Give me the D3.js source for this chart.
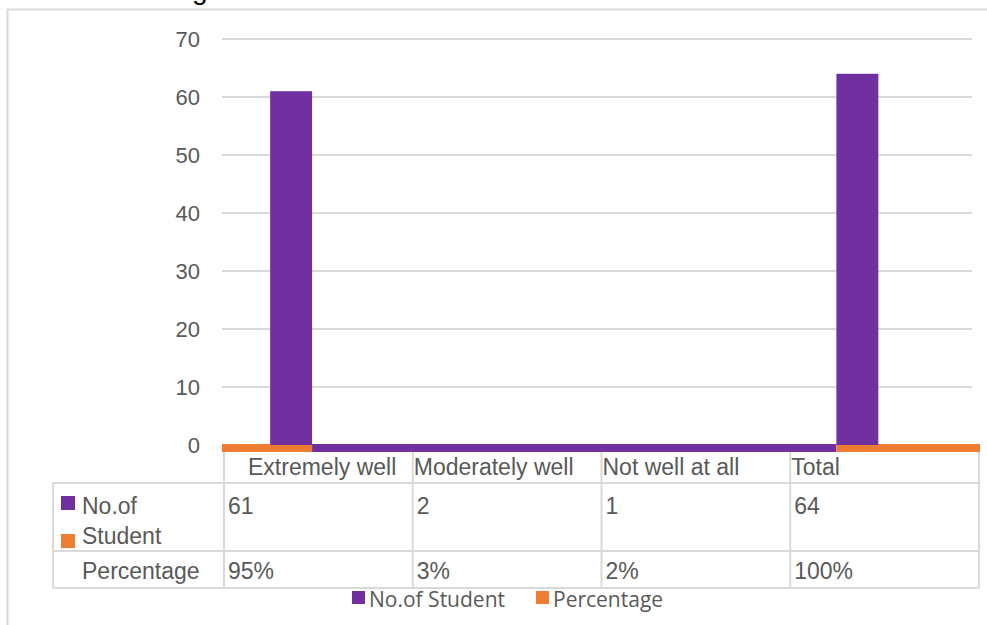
<!DOCTYPE html>
<html>
<head>
<meta charset="utf-8">
<script src="https://cdn.jsdelivr.net/npm/d3@7"></script>
<style>
  body { margin: 0; background: #fff; }
  text { font-family: "Liberation Sans", Arial, sans-serif; fill: #595959; }
  .legend text { font-family: "Open Sans", "Noto Sans", sans-serif; }
</style>
</head>
<body>
<svg id="chart" width="987" height="625"></svg>
<script>
// data
var categories = ["Extremely well", "Moderately well", "Not well at all", "Total"];
var students = [61, 2, 1, 64];
var percentLabels = ["95%", "3%", "2%", "100%"];
var percentages = [0.95, 0.03, 0.02, 1.00];
var series = ["No.of Student", "Percentage"];
var colours = ["#7030a0", "#ed7d31"];
var yTicks = [0, 10, 20, 30, 40, 50, 60, 70];

var svg = d3.select("#chart");
var grid = "#d9d9d9";

// chart border (only top and left edges show in the frame)
svg.append("rect")
    .attr("x", 7.5).attr("y", 9.5)
    .attr("width", 1000).attr("height", 700)
    .attr("fill", "none").attr("stroke", grid).attr("stroke-width", 2);

// title, mostly cropped off the top
svg.append("text")
    .attr("x", 192).attr("y", -1)
    .style("font-size", "28px").style("fill", "#000")
    .text("g");

var y = d3.scaleLinear().domain([0, 70]).range([445, 39]);
var x = d3.scaleBand().domain(categories).range([224, 979]);
var xs = d3.scaleBand().domain(series).range([0, x.bandwidth()])
    .paddingOuter(1.25).align(0.44);

// gridlines + y labels
svg.append("g").selectAll("line")
    .data(yTicks.slice(1))
    .enter().append("line")
    .attr("x1", 222).attr("x2", 972)
    .attr("y1", function (d) { return y(d); })
    .attr("y2", function (d) { return y(d); })
    .attr("stroke", grid).attr("stroke-width", 2);

svg.append("g").selectAll("text")
    .data(yTicks)
    .enter().append("text")
    .attr("x", 200)
    .attr("y", function (d) { return y(d) + 8; })
    .attr("text-anchor", "end")
    .style("font-size", "22px")
    .text(function (d) { return d; });

// bars
var rows = [];
categories.forEach(function (c, i) {
    rows.push({cat: c, s: series[0], v: students[i], col: colours[0]});
    rows.push({cat: c, s: series[1], v: percentages[i], col: colours[1]});
});

// small values collapse into the thick baseline strip, as in the original render
var base = y(0);
var purpleEnd = x(categories[0]) + xs(series[0]) + xs.bandwidth();
var purpleStart = x(categories[3]) + xs(series[0]);
var strip = [
    {x0: 222, x1: purpleEnd, col: colours[1]},
    {x0: purpleEnd, x1: purpleStart, col: colours[0]},
    {x0: purpleStart, x1: 980, col: colours[1]}
];
svg.append("g").selectAll("rect")
    .data(strip)
    .enter().append("rect")
    .attr("x", function (d) { return d.x0; })
    .attr("width", function (d) { return d.x1 - d.x0; })
    .attr("y", base - 1).attr("height", 8)
    .attr("fill", function (d) { return d.col; });

svg.append("g").selectAll("rect")
    .data(rows.filter(function (d) { return d.v > 5; }))
    .enter().append("rect")
    .attr("x", function (d) { return x(d.cat) + xs(d.s); })
    .attr("width", xs.bandwidth())
    .attr("y", function (d) { return y(d.v); })
    .attr("height", function (d) { return base - y(d.v); })
    .attr("fill", function (d) { return d.col; });

// data table
var tbl = svg.append("g");
var colEdges = categories.map(function (c) { return x(c); }).concat([x.range()[1]]);
var tLeft = 53, rowY = [452, 483, 551, 588];
var fs = "23px";

[rowY[1], rowY[2], rowY[3]].forEach(function (yy) {
    tbl.append("line").attr("x1", tLeft).attr("x2", colEdges[4])
        .attr("y1", yy).attr("y2", yy)
        .attr("stroke", grid).attr("stroke-width", 2);
});
colEdges.forEach(function (xx) {
    tbl.append("line").attr("x1", xx).attr("x2", xx)
        .attr("y1", rowY[0]).attr("y2", rowY[3])
        .attr("stroke", grid).attr("stroke-width", 2);
});
tbl.append("line").attr("x1", tLeft).attr("x2", tLeft)
    .attr("y1", rowY[1]).attr("y2", rowY[3])
    .attr("stroke", grid).attr("stroke-width", 2);

tbl.selectAll(".head")
    .data(categories)
    .enter().append("text")
    .attr("class", "head")
    .attr("x", function (d, i) { return x(d) + (i === 0 ? 24 : 1); })
    .attr("y", 475)
    .style("font-size", fs)
    .text(function (d) { return d; });

tbl.selectAll(".val")
    .data(students)
    .enter().append("text")
    .attr("class", "val")
    .attr("x", function (d, i) { return x(categories[i]) + 4; })
    .attr("y", 514)
    .style("font-size", fs)
    .text(function (d) { return d; });

tbl.selectAll(".pct")
    .data(percentLabels)
    .enter().append("text")
    .attr("class", "pct")
    .attr("x", function (d, i) { return x(categories[i]) + 4; })
    .attr("y", 579)
    .style("font-size", fs)
    .text(function (d) { return d; });

// row headers with legend keys
tbl.append("rect").attr("x", 61).attr("y", 496).attr("width", 14).attr("height", 14).attr("fill", colours[0]);
tbl.append("rect").attr("x", 61).attr("y", 534).attr("width", 14).attr("height", 14).attr("fill", colours[1]);
tbl.append("text").attr("x", 82).attr("y", 514).style("font-size", fs).text("No.of");
tbl.append("text").attr("x", 82).attr("y", 544).style("font-size", fs).text("Student");
tbl.append("text").attr("x", 82).attr("y", 579).style("font-size", fs).text(series[1]);

// legend
var lg = svg.append("g").attr("class", "legend");
var lgX = [352, 536];
series.forEach(function (s, i) {
    lg.append("rect").attr("x", lgX[i]).attr("y", 591)
        .attr("width", 13).attr("height", 13).attr("fill", colours[i]);
    lg.append("text").attr("x", lgX[i] + 17).attr("y", 607)
        .style("font-size", "21px").text(s);
});
</script>
</body>
</html>
